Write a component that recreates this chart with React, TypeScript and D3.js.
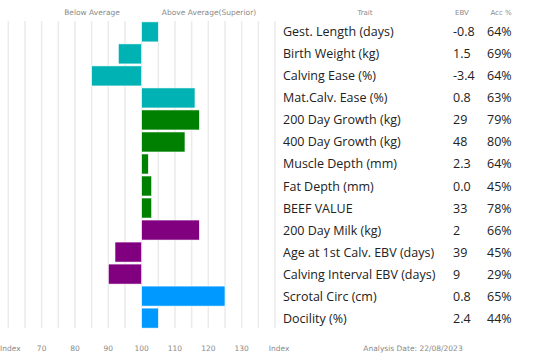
import React from "react";
import * as d3 from "d3";

const traits = [
  "Gest. Length (days)",
  "Birth Weight (kg)",
  "Calving Ease (%)",
  "Mat.Calv. Ease (%)",
  "200 Day Growth (kg)",
  "400 Day Growth (kg)",
  "Muscle Depth (mm)",
  "Fat Depth (mm)",
  "BEEF VALUE",
  "200 Day Milk (kg)",
  "Age at 1st Calv. EBV (days)",
  "Calving Interval EBV (days)",
  "Scrotal Circ (cm)",
  "Docility (%)",
];
const indexValues = [105, 93, 85, 116, 117.3, 113, 102, 103, 103, 117.3, 92, 90, 125, 105];
const ebvs = ["-0.8", "1.5", "-3.4", "0.8", "29", "48", "2.3", "0.0", "33", "2", "39", "9", "0.8", "2.4"];
const accs = ["64%", "69%", "64%", "63%", "79%", "80%", "64%", "45%", "78%", "66%", "45%", "29%", "65%", "44%"];
const groups = ["calving", "calving", "calving", "calving", "growth", "growth", "carcase", "carcase", "carcase", "maternal", "maternal", "maternal", "other", "other"];
const groupColors: Record<string, string> = {
  calving: "#00b2b4",
  growth: "#008000",
  carcase: "#008000",
  maternal: "#800080",
  other: "#0099ff",
};
const gridValues = d3.range(60, 141, 5);
const tickLabels = [70, 80, 90, 100, 110, 120, 130];

export default function App() {
  const W = 539, H = 362;
  const x = d3.scaleLinear().domain([60, 140]).range([8.3, 275]);
  const y = d3.scaleBand<string>().domain(traits).range([21, 329]).paddingInner(0.09).paddingOuter(0.04);
  const gray = "#8a8a8a";
  const tickFont = "'DejaVu Sans', Verdana, sans-serif";
  const tableFont = "'Open Sans', sans-serif";
  return (
    <svg width={W} height={H} style={{ position: "absolute", left: 0, top: 0, background: "#fff" }}>
      <rect width={W} height={H} fill="#fff" />
      {gridValues.map((v) => (
        <line key={v} x1={x(v)} x2={x(v)} y1={21} y2={328} stroke="#ebebeb" strokeWidth={1.5} />
      ))}
      {traits.map((t, i) => {
        const v = indexValues[i];
        const x0 = x(Math.min(100, v));
        const x1 = x(Math.max(100, v));
        return (
          <rect key={t} x={x0} y={y(t)} width={x1 - x0} height={y.bandwidth()} fill={groupColors[groups[i]]} stroke="#fff" strokeWidth={0.6} />
        );
      })}
      <text x={92} y={15} fontSize={7.5} fill={gray} fontFamily={tickFont} textAnchor="middle">Below Average</text>
      <text x={209} y={15} fontSize={7.5} fill={gray} fontFamily={tickFont} textAnchor="middle">Above Average(Superior)</text>
      <text x={365} y={15} fontSize={7} fill={gray} fontFamily={tickFont} textAnchor="middle">Trait</text>
      <text x={462} y={15} fontSize={7} fill={gray} fontFamily={tickFont} textAnchor="middle">EBV</text>
      <text x={501} y={15} fontSize={7} fill={gray} fontFamily={tickFont} textAnchor="middle">Acc %</text>
      {traits.map((t, i) => {
        const cy = (y(t) as number) + y.bandwidth() / 2;
        return (
          <g key={"row" + t} fontFamily={tableFont} fontSize={12.5} fill="#222">
            <text x={283} y={cy} dominantBaseline="central">{t}</text>
            <text x={453} y={cy} dominantBaseline="central">{ebvs[i]}</text>
            <text x={487} y={cy} dominantBaseline="central">{accs[i]}</text>
          </g>
        );
      })}
      {tickLabels.map((v) => (
        <text key={v} x={x(v)} y={351} fontSize={7.5} fill={gray} fontFamily={tickFont} textAnchor="middle">{v}</text>
      ))}
      <text x={0} y={351} fontSize={7.5} fill={gray} fontFamily={tickFont}>Index</text>
      <text x={x(140) + 4} y={351} fontSize={7.5} fill={gray} fontFamily={tickFont} textAnchor="middle">Index</text>
      <text x={413} y={351} fontSize={7.5} fill={gray} fontFamily={tickFont} textAnchor="middle">Analysis Date: 22/08/2023</text>
    </svg>
  );
}
